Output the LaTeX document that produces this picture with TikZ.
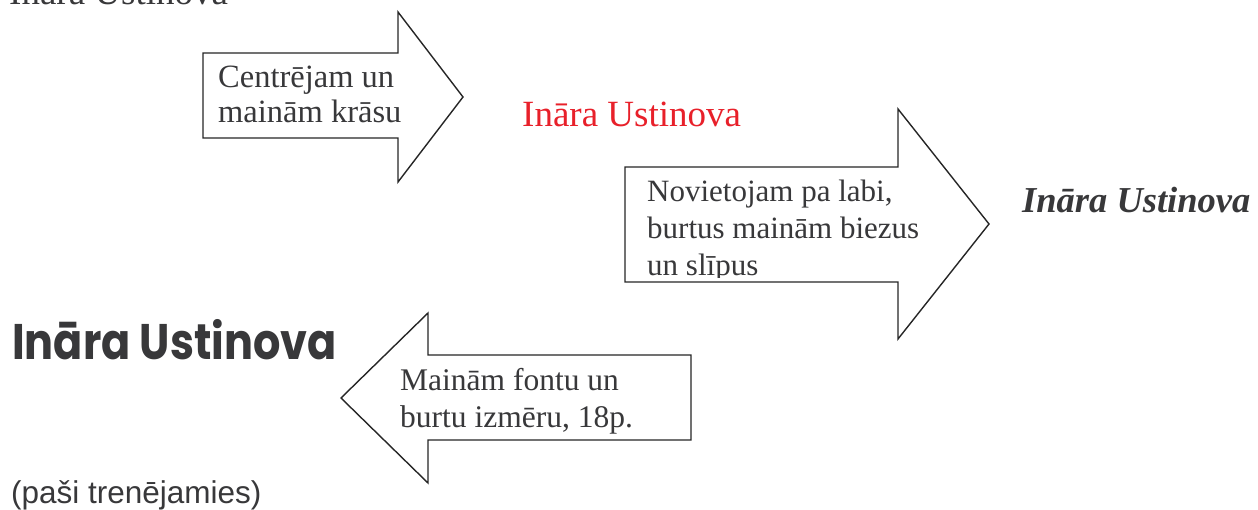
\documentclass[tikz,border=0pt]{standalone}
\usepackage{fontspec}
\setmainfont{Liberation Serif}
\newfontfamily\roundfont{Poppins}
\newfontfamily\helvfont{Liberation Sans}
\definecolor{txtgray}{HTML}{38383A}
\definecolor{redtxt}{HTML}{E8202A}
\begin{document}
\begin{tikzpicture}[x=1pt,y=-1pt,
  arrowshape/.style={draw=black!85,line width=1.4pt,line join=miter,fill=white},
  boxtext/.style={anchor=base west,inner sep=0pt,text=txtgray,font=\fontsize{31}{35}\selectfont,align=left},
  bigtext/.style={anchor=base west,inner sep=0pt,text=txtgray}]
\useasboundingbox (0,0) rectangle (1258,510);

% top clipped text
\node[bigtext,font=\fontsize{37}{40}\selectfont] (t0) at (9,5) {Ināra Ustinova};

% arrow 1 (right)
\draw[arrowshape] (203,53) -- (398,53) -- (398,12) -- (463,97) -- (398,182) -- (398,138) -- (203,138) -- cycle;
\node[boxtext,font=\fontsize{32.5}{35}\selectfont] (a1) at (218,123) {Centrējam un\\mainām krāsu};

% red text
\node[bigtext,text=redtxt,font=\fontsize{37}{40}\selectfont] (t1) at (522,127) {Ināra Ustinova};

% arrow 2 (right)
\draw[arrowshape] (625,167) -- (898,167) -- (898,109) -- (989,224) -- (898,339) -- (898,282) -- (625,282) -- cycle;
\begin{scope}
\clip (625,167) rectangle (990,278);
\node[boxtext,font=\fontsize{31}{37}\selectfont] (a2) at (647,276) {Novietojam pa labi,\\burtus mainām biezus\\un slīpus};
\end{scope}

% bold italic text
\node[bigtext,font=\fontsize{36.5}{40}\selectfont\bfseries\itshape] (t2) at (1022,213) {Ināra Ustinova};

% rounded bold text
\node[bigtext,font=\fontsize{50}{54}\selectfont\roundfont\bfseries,xscale=0.86] (t3) at (12,360) {Ināra Ustinova};

% arrow 3 (left)
\draw[arrowshape] (691,355) -- (428,355) -- (428,313) -- (341,398) -- (428,483) -- (428,440) -- (691,440) -- cycle;
\node[boxtext,font=\fontsize{31.5}{36}\selectfont] (a3) at (400,427) {Mainām fontu un\\burtu izmēru, 18p.};

% bottom text
\node[bigtext,font=\fontsize{31.5}{35}\selectfont\helvfont] (t4) at (11,503) {(paši trenējamies)};
\end{tikzpicture}
\end{document}
